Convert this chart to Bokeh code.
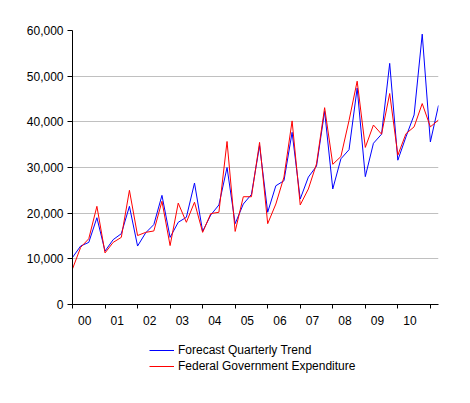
from bokeh.plotting import figure
from bokeh.layouts import column
from bokeh.models import Range1d, FixedTicker, NumeralTickFormatter, Legend, LegendItem
from bokeh.embed import file_html
from bokeh.resources import INLINE

# Quarterly observations, 2000Q1 .. 2011Q2
year_labels = ["00", "01", "02", "03", "04", "05", "06", "07", "08", "09", "10"]

forecast_quarterly_trend = [
    10300, 12800, 13600, 19000,
    11700, 14200, 15500, 21500,
    12800, 15700, 17500, 23900,
    14700, 18000, 19100, 26600,
    16000, 19600, 21800, 30000,
    17700, 22000, 24100, 34800,
    20200, 26000, 27100, 37700,
    23100, 27900, 30300, 42300,
    25300, 31900, 33900, 47400,
    28000, 35300, 37300, 52800,
    31600, 36700, 41500, 59200,
    35600, 43600,
]

federal_government_expenditure = [
    7800, 12500, 14400, 21500,
    11300, 13600, 14700, 25000,
    15100, 15800, 16100, 22600,
    12900, 22200, 18000, 22400,
    15800, 19900, 20200, 35700,
    16000, 23600, 23600, 35500,
    17700, 22000, 27900, 40200,
    21800, 25300, 30800, 43100,
    30700, 32400, 40300, 48900,
    34400, 39300, 37300, 46200,
    32700, 37400, 38900, 44000,
    38900, 40400,
]

series_names = ["Forecast Quarterly Trend", "Federal Government Expenditure"]
series_colors = ["#0000ff", "#ff0000"]

y_ticks = [0, 10000, 20000, 30000, 40000, 50000, 60000]

quarters = list(range(len(forecast_quarterly_trend)))
year_starts = [4 * k for k in range(len(year_labels) + 1)]
label_pos = [4 * k + 1.5 for k in range(len(year_labels))]

FONT = "Liberation Sans"
TXT = "#000000"

p = figure(width=470, height=340, output_backend="svg", toolbar_location=None,
           x_range=Range1d(0, len(quarters) - 1), y_range=Range1d(0, 60000),
           min_border_left=72, min_border_right=32, min_border_top=30,
           min_border_bottom=36)
p.outline_line_color = None
p.background_fill_color = "white"
p.border_fill_color = "white"

# y axis
p.yaxis.ticker = FixedTicker(ticks=y_ticks)
p.yaxis.formatter = NumeralTickFormatter(format="0,0")
p.yaxis.minor_tick_line_color = None
p.yaxis.major_tick_out = 5
p.yaxis.major_tick_in = 0
p.yaxis.major_label_standoff = 4
p.yaxis.axis_line_color = "black"
p.yaxis.major_tick_line_color = "black"
p.yaxis.major_label_text_font = FONT
p.yaxis.major_label_text_font_size = "12px"
p.yaxis.major_label_text_color = TXT

# x axis: minor ticks at year starts, labels offset into the year
p.xaxis.ticker = FixedTicker(ticks=label_pos, minor_ticks=year_starts)
p.xaxis.major_label_overrides = {pos: lab for pos, lab in zip(label_pos, year_labels)}
p.xaxis.major_tick_out = 0
p.xaxis.major_tick_in = 0
p.xaxis.minor_tick_out = 4
p.xaxis.minor_tick_in = 0
p.xaxis.minor_tick_line_color = "black"
p.xaxis.axis_line_color = "black"
p.xaxis.major_label_standoff = 7
p.xaxis.major_label_text_font = FONT
p.xaxis.major_label_text_font_size = "12px"
p.xaxis.major_label_text_color = TXT

# grid
p.xgrid.visible = False
p.ygrid.ticker = FixedTicker(ticks=y_ticks[1:-1])
p.ygrid.grid_line_color = "#c0c0c0"
p.ygrid.grid_line_width = 1

p.line(quarters, forecast_quarterly_trend, line_color=series_colors[0], line_width=1)
p.line(quarters, federal_government_expenditure, line_color=series_colors[1], line_width=1)

# legend strip below the chart
q = figure(width=470, height=63, output_backend="svg", toolbar_location=None,
           x_range=Range1d(0, 1), y_range=Range1d(0, 1),
           min_border_left=0, min_border_right=0, min_border_top=0,
           min_border_bottom=0)
q.axis.visible = False
q.grid.visible = False
q.outline_line_color = None
q.background_fill_color = "white"
q.border_fill_color = "white"
items = []
for name, col in zip(series_names, series_colors):
    rr = q.line([-5, -4], [-5, -4], line_color=col, line_width=1)
    items.append(LegendItem(label=name, renderers=[rr]))

legend = Legend(
    items=items, location=(77, 30), orientation="vertical", padding=0, margin=0,
    spacing=2, glyph_width=25, glyph_height=14, label_height=14, label_standoff=4,
    border_line_color=None, background_fill_alpha=0,
    label_text_font=FONT, label_text_font_size="12px", label_text_color=TXT,
)
q.add_layout(legend, "center")

layout = column(p, q, spacing=0)
open("out.html", "w").write(file_html(layout, INLINE))
